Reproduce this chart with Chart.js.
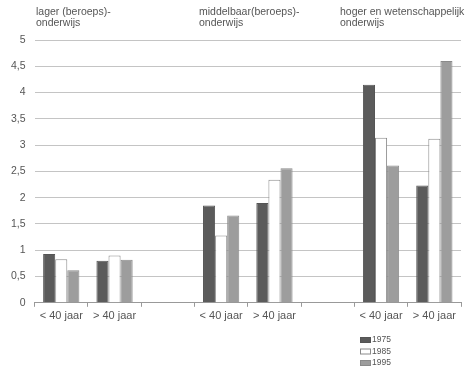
<!DOCTYPE html>
<html>
<head>
<meta charset="utf-8">
<script src="https://cdn.jsdelivr.net/npm/chart.js@4/dist/chart.umd.min.js"></script>
<style>
  html, body { margin: 0; padding: 0; background: #fff; }
  #wrap { position: relative; width: 470px; height: 368px; }
</style>
</head>
<body>
<div id="wrap"><canvas id="eduChart" width="470" height="368"></canvas></div>
<script>
// Categories along the x axis (blank slots separate the three groups)
const categories = ['< 40 jaar', '> 40 jaar', '', '< 40 jaar', '> 40 jaar', '', '< 40 jaar', '> 40 jaar'];
const groupLabels = [
    ['lager (beroeps)-', 'onderwijs'],
    ['middelbaar(beroeps)-', 'onderwijs'],
    ['hoger en wetenschappelijk', 'onderwijs']
];
const years = ['1975', '1985', '1995'];

// Values per year
const values1975 = [0.93, 0.80, null, 1.85, 1.90, null, 4.15, 2.23];
const values1985 = [0.83, 0.90, null, 1.28, 2.34, null, 3.14, 3.12];
const values1995 = [0.62, 0.82, null, 1.66, 2.56, null, 2.61, 4.60];

const yTicks = [0, 0.5, 1, 1.5, 2, 2.5, 3, 3.5, 4, 4.5, 5];

const fills = ['#5b5b5b', '#ffffff', '#9d9d9d'];
const borders = ['#555555', '#8a8a8a', '#8a8a8a'];
const textColor = '#555';
const fontFamily = '"Liberation Sans", Arial, sans-serif';

// Group headings above the plot and a small legend in the bottom right
const extrasPlugin = {
    id: 'extras',
    afterDraw(chart) {
        const ctx = chart.ctx;
        ctx.save();
        ctx.fillStyle = textColor;
        ctx.font = '10.5px ' + fontFamily;
        ctx.textBaseline = 'middle';
        const headX = [36, 199, 340];
        groupLabels.forEach((lines, i) => {
            lines.forEach((line, j) => {
                ctx.fillText(line, headX[i], 12 + j * 11.5);
            });
        });

        ctx.font = '8.5px ' + fontFamily;
        years.forEach((yr, i) => {
            const y = 340 + i * 11.5;
            ctx.fillStyle = fills[i];
            ctx.fillRect(360.5, y - 2.5, 10, 5);
            ctx.strokeStyle = borders[i];
            ctx.lineWidth = 1;
            ctx.strokeRect(360.5, y - 2.5, 10, 5);
            ctx.fillStyle = textColor;
            ctx.fillText(yr, 372, y);
        });
        ctx.restore();
    }
};

function renderChart() {
    const ctx = document.getElementById('eduChart');
    const series = [values1975, values1985, values1995];

    new Chart(ctx.getContext('2d'), {
        type: 'bar',
        data: {
            labels: categories,
            datasets: years.map((yr, i) => ({
                label: yr,
                data: series[i],
                backgroundColor: fills[i],
                borderColor: borders[i],
                borderWidth: 1,
                categoryPercentage: 0.68,
                barPercentage: 1.0
            }))
        },
        options: {
            responsive: false,
            animation: false,
            layout: { padding: { top: 40, right: 9, left: 2, bottom: 42 } },
            plugins: {
                legend: { display: false },
                tooltip: { enabled: false }
            },
            scales: {
                x: {
                    grid: {
                        display: true,
                        drawOnChartArea: false,
                        drawTicks: true,
                        tickLength: 4,
                        color: '#999',
                        offset: true
                    },
                    border: { color: '#999' },
                    ticks: {
                        color: textColor,
                        font: { size: 11, family: fontFamily },
                        padding: 3,
                        maxRotation: 0,
                        autoSkip: false
                    }
                },
                y: {
                    min: 0,
                    max: 5,
                    afterBuildTicks: axis => { axis.ticks = yTicks.map(v => ({ value: v })); },
                    grid: {
                        color: '#c4c4c4',
                        drawTicks: false
                    },
                    border: { display: false },
                    ticks: {
                        color: textColor,
                        font: { size: 10.5, family: fontFamily },
                        padding: 9,
                        callback: v => String(v).replace('.', ',')
                    }
                }
            }
        },
        plugins: [extrasPlugin]
    });
}

document.addEventListener('DOMContentLoaded', renderChart);
</script>
</body>
</html>
